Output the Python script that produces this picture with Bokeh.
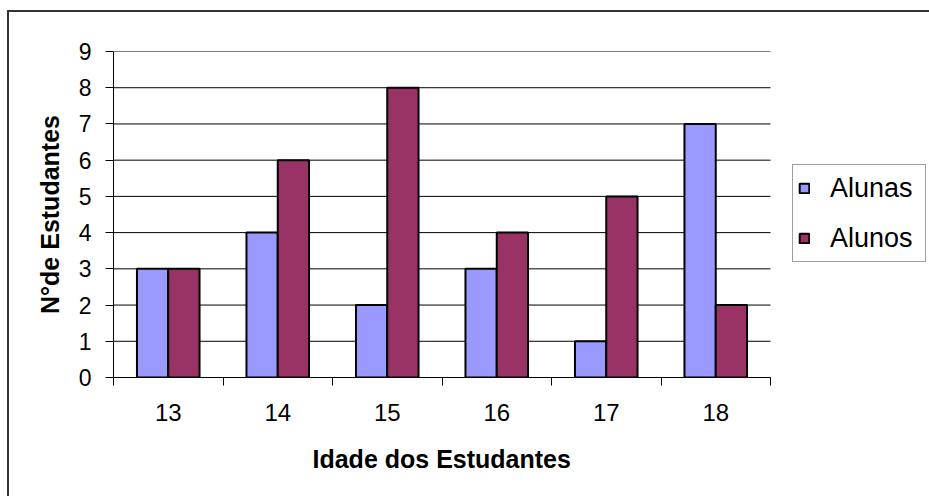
from bokeh.plotting import figure
from bokeh.models import ColumnDataSource, FixedTicker, Legend, LegendItem, Range1d, Title
from bokeh.transform import dodge
from bokeh.embed import file_html
from bokeh.resources import INLINE

idades = ["13", "14", "15", "16", "17", "18"]
alunas = [3, 4, 2, 3, 1, 7]
alunos = [3, 6, 8, 4, 5, 2]
y_ticks = [0, 1, 2, 3, 4, 5, 6, 7, 8, 9]
x_title = "Idade dos Estudantes"
y_title = "N°de Estudantes"

n = len(idades)
pos = [i + 0.5 for i in range(n)]
src = ColumnDataSource(dict(x=pos, alunas=alunas, alunos=alunos))

W, H = 929, 496
LEFT, RIGHT_AXIS, TOP, BOTTOM = 113, 770, 51, 377
# frame spans to the right edge; the category axis occupies [0, n]
x_end = n * (W - LEFT) / (RIGHT_AXIS - LEFT)

p = figure(width=W, height=H, output_backend="svg", toolbar_location=None,
           x_range=Range1d(0, x_end), y_range=Range1d(0, 9),
           min_border_left=LEFT, min_border_right=0, min_border_top=TOP,
           min_border_bottom=H - BOTTOM)
p.outline_line_color = None
p.background_fill_color = "white"
p.border_fill_alpha = 0

# horizontal grid lines limited to the category span
p.xgrid.grid_line_color = None
p.ygrid.grid_line_color = None
p.segment(x0=[0] * len(y_ticks), x1=[n] * len(y_ticks), y0=y_ticks, y1=y_ticks,
          line_color="black", line_width=1)

bw = 1 / 3.5
r1 = p.vbar(x=dodge("x", -bw / 2, range=p.x_range), top="alunas", width=bw, source=src,
            fill_color="#9999FF", line_color="black", line_width=2)
r2 = p.vbar(x=dodge("x", bw / 2, range=p.x_range), top="alunos", width=bw, source=src,
            fill_color="#993366", line_color="black", line_width=2)

FONT = "Liberation Sans"

# x axis
xa = p.xaxis[0]
xa.bounds = (0, n)
xa.ticker = FixedTicker(ticks=pos, minor_ticks=list(range(n + 1)))
xa.major_label_overrides = {p_: lab for p_, lab in zip(pos, idades)}
xa.major_tick_line_color = None
xa.major_tick_out = 0
xa.minor_tick_out = 8
xa.minor_tick_in = 0
xa.minor_tick_line_color = "black"
xa.axis_line_color = "black"
xa.major_label_text_font = FONT
xa.major_label_text_font_size = "24px"
xa.major_label_text_color = "black"
xa.major_label_standoff = 18

# x axis title, centred under the category span
xt = Title(text=x_title, align="left", offset=199, standoff=39,
           text_font=FONT, text_font_style="bold", text_font_size="25px",
           text_color="black")
p.add_layout(xt, "below")

# y axis
ya = p.yaxis[0]
ya.ticker = FixedTicker(ticks=y_ticks)
ya.major_tick_out = 8
ya.major_tick_in = 0
ya.minor_tick_line_color = None
ya.axis_line_color = "black"
ya.major_tick_line_color = "black"
ya.major_label_text_font = FONT
ya.major_label_text_font_size = "23px"
ya.major_label_text_color = "black"
ya.major_label_standoff = 14
ya.axis_label = y_title
ya.axis_label_text_font = FONT
ya.axis_label_text_font_style = "bold"
ya.axis_label_text_font_size = "25px"
ya.axis_label_text_color = "black"
ya.axis_label_standoff = 12

legend = Legend(items=[LegendItem(label="Alunas", renderers=[r1]),
                       LegendItem(label="Alunos", renderers=[r2])],
                location=(679, 115))
legend.label_text_font = FONT
legend.label_text_font_size = "27px"
legend.label_text_color = "black"
legend.glyph_width = 12
legend.glyph_height = 12
legend.label_standoff = 20
legend.label_height = 36
legend.label_width = 90
legend.spacing = 14
legend.padding = 5
legend.margin = 0
legend.border_line_color = "#404040"
legend.border_line_width = 1
legend.background_fill_color = "white"
legend.background_fill_alpha = 1.0
p.add_layout(legend, "center")

p.styles = {
    "background": ("linear-gradient(#333333, #333333) 7px 10px / 100% 2px no-repeat, "
                   "linear-gradient(#333333, #333333) 7px 10px / 2px 100% no-repeat, white"),
}

open("out.html", "w").write(file_html(p, INLINE))
